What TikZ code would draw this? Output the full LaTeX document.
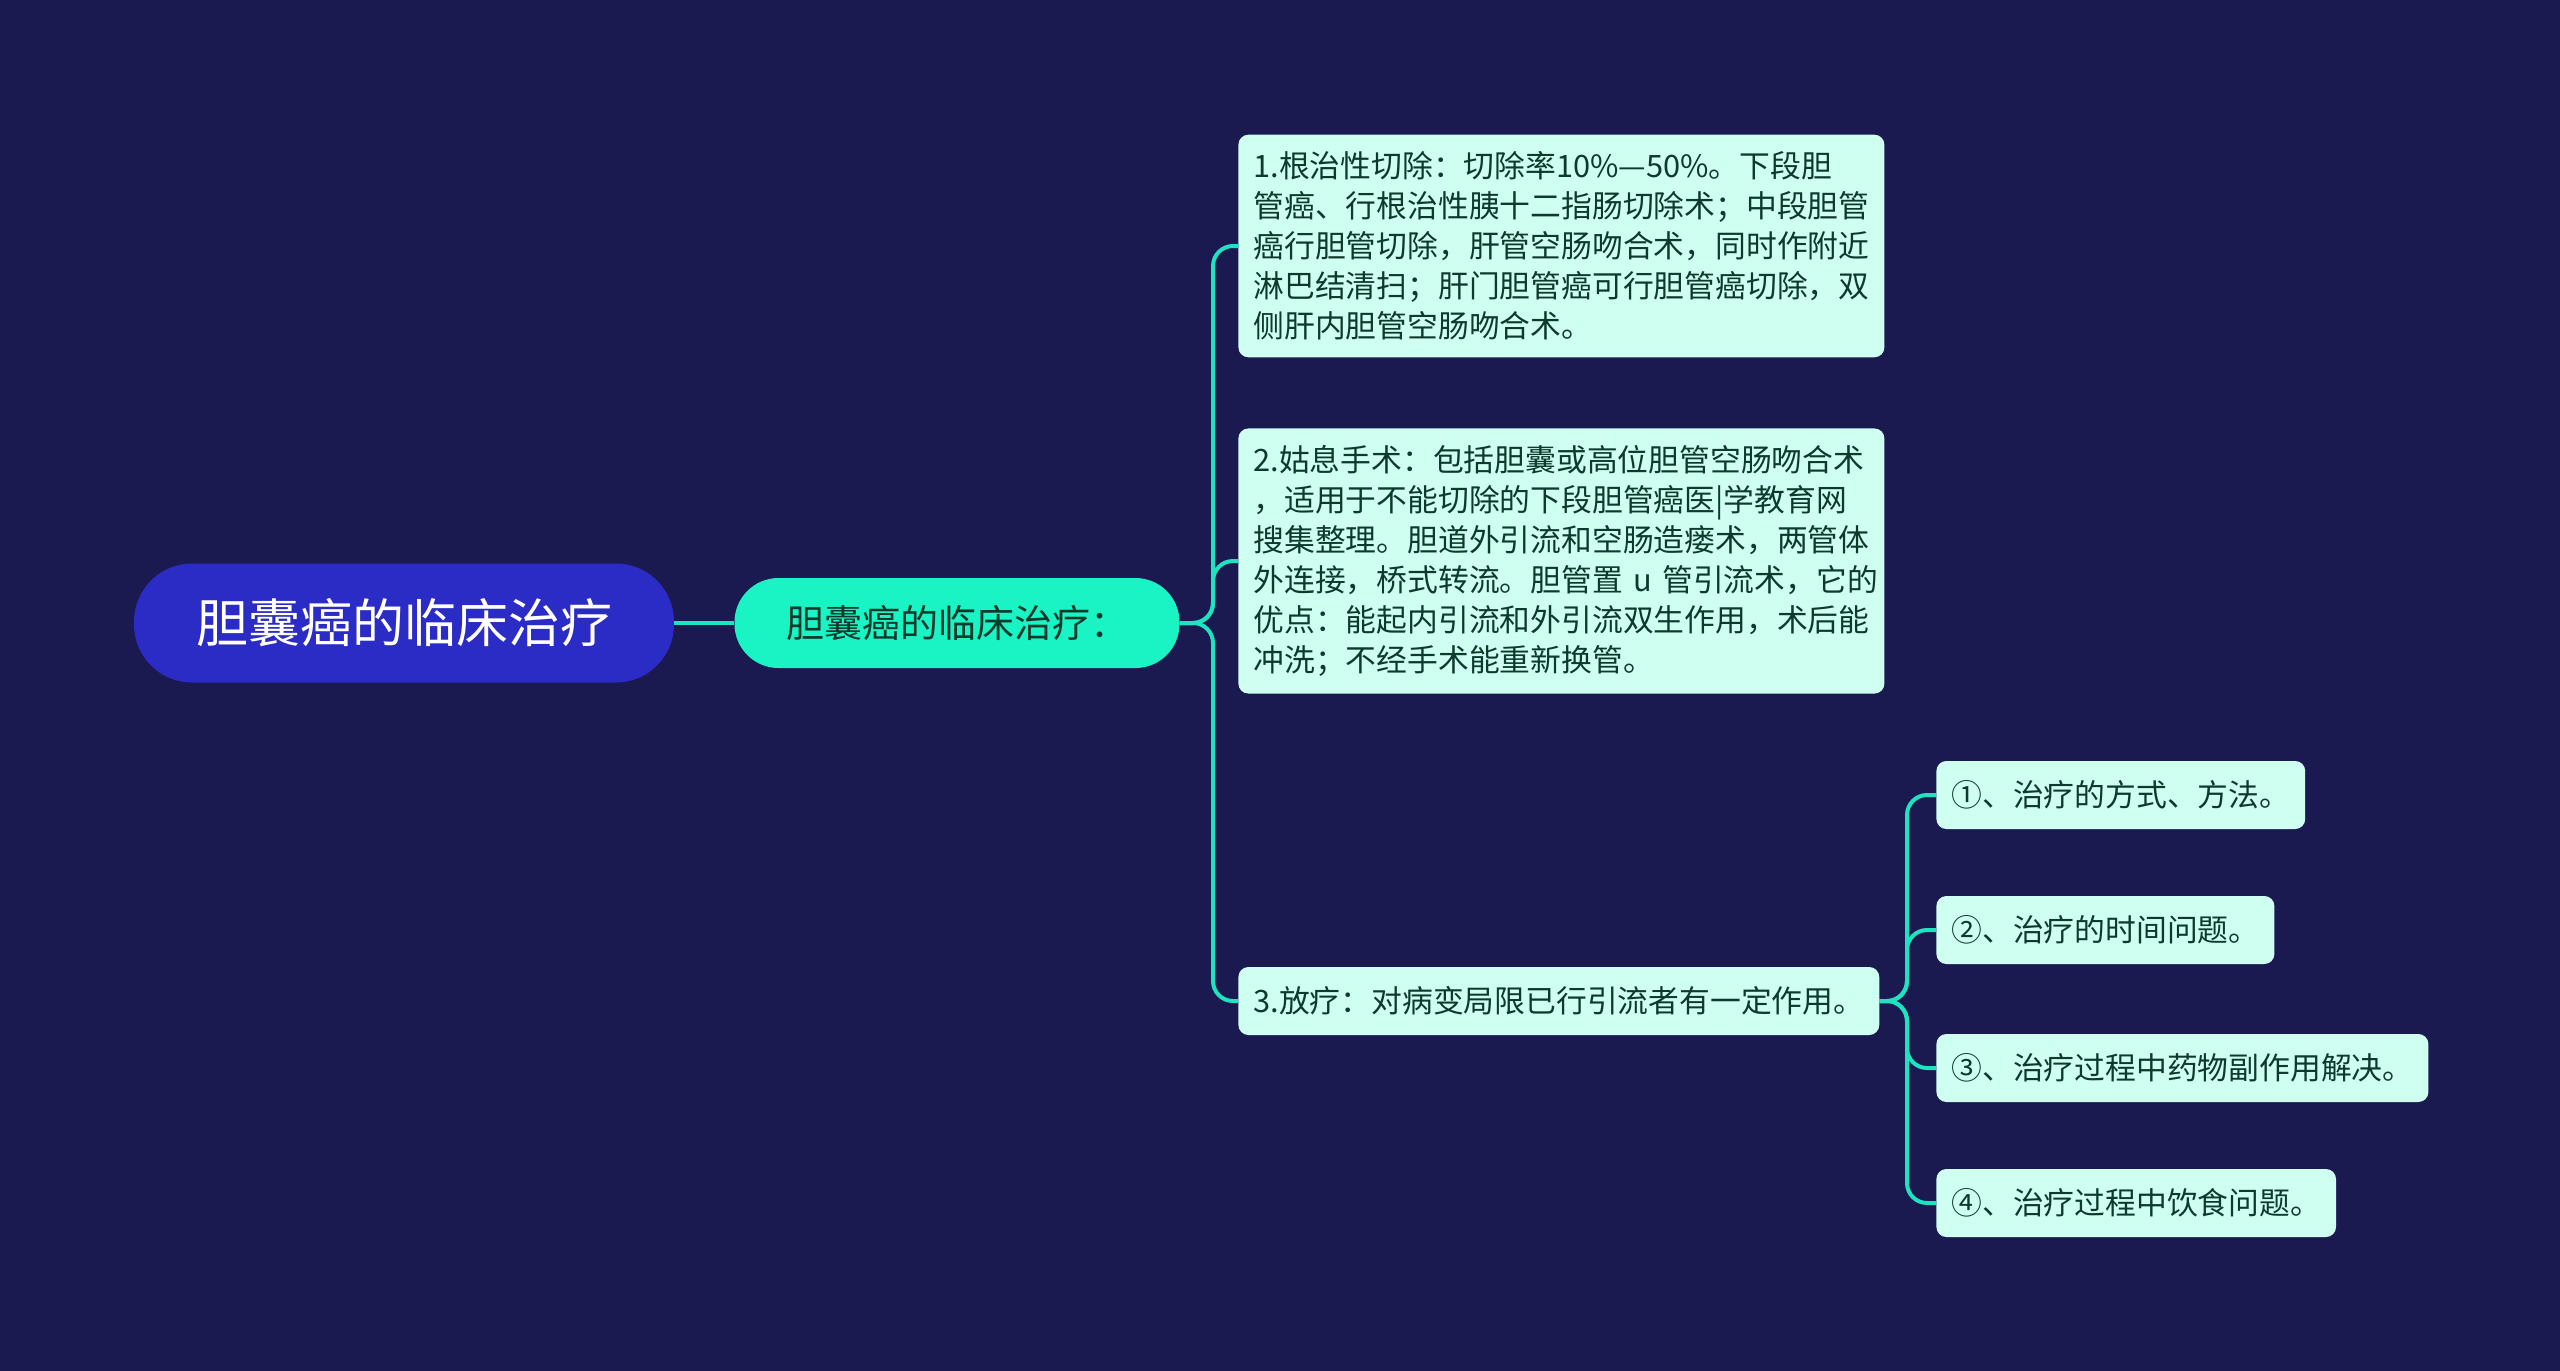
\documentclass[tikz,border=0pt]{standalone}
\usepackage{fontspec}
\setmainfont{Noto Sans CJK SC}
\usepackage{tikz}

\definecolor{bgnavy}{HTML}{1A1950}
\definecolor{rootblue}{HTML}{2B2BC6}
\definecolor{maingreen}{HTML}{1AF3C3}
\definecolor{leafmint}{HTML}{CFFFF1}
\definecolor{linkteal}{HTML}{1EE3C0}
\definecolor{inkgreen}{HTML}{0E3A2C}

\begin{document}
\begin{tikzpicture}[x=0.5pt,y=-0.5pt,
    rootbox/.style={shape=rectangle,rounded corners=29pt,fill=rootblue,text=white,
      minimum width=270pt,minimum height=59.5pt,font=\fontsize{26}{30}\selectfont},
    mainbox/.style={shape=rectangle,rounded corners=22pt,fill=maingreen,text=inkgreen,
      minimum width=222.5pt,minimum height=45pt,font=\fontsize{19}{23}\selectfont},
    leafbox/.style={shape=rectangle,rounded corners=5pt,fill=leafmint,text=inkgreen,
      anchor=west,inner xsep=7.5pt,inner ysep=8.5pt,minimum height=34pt,
      font=\fontsize{15.4}{20}\selectfont},
    link/.style={draw=linkteal,line width=2pt,rounded corners=10pt}]
        \useasboundingbox[fill=bgnavy] (0,0) rectangle (2560,1371);

        \node[rootbox] (root) at (404,623) {胆囊癌的临床治疗};
        \node[mainbox] (main) at (957,623) {胆囊癌的临床治疗：};

        \node[leafbox,text width=308pt,align=left] (p1) at (1238,246)
            {1.根治性切除：切除率10\%—50\%。下段胆\\管癌、行根治性胰十二指肠切除术；中段胆管\\癌行胆管切除，肝管空肠吻合术，同时作附近\\淋巴结清扫；肝门胆管癌可行胆管癌切除，双\\侧肝内胆管空肠吻合术。};
        \node[leafbox,text width=308pt,align=left] (p2) at (1238,561)
            {2.姑息手术：包括胆囊或高位胆管空肠吻合术\\，适用于不能切除的下段胆管癌医|学教育网\\搜集整理。胆道外引流和空肠造瘘术，两管体\\外连接，桥式转流。胆管置~u~管引流术，它的\\优点：能起内引流和外引流双生作用，术后能\\冲洗；不经手术能重新换管。};
        \node[leafbox] (p3) at (1238,1001) {3.放疗：对病变局限已行引流者有一定作用。};

        \node[leafbox] (q1) at (1936,795)  {①、治疗的方式、方法。};
        \node[leafbox] (q2) at (1936,930)  {②、治疗的时间问题。};
        \node[leafbox] (q3) at (1936,1068) {③、治疗过程中药物副作用解决。};
        \node[leafbox] (q4) at (1936,1203) {④、治疗过程中饮食问题。};

        \coordinate (hubm) at (1213,623);
        \coordinate (hubp) at (1907,1001);

	\path[link] (root) -- (main);
	\path[link] (main.east) -- (hubm) |- (p1.west);
	\path[link] (main.east) -- (hubm) |- (p2.west);
	\path[link] (main.east) -- (hubm) |- (p3.west);
	\path[link] (p3.east) -- (hubp) |- (q1.west);
	\path[link] (p3.east) -- (hubp) |- (q2.west);
	\path[link] (p3.east) -- (hubp) |- (q3.west);
	\path[link] (p3.east) -- (hubp) |- (q4.west);
\end{tikzpicture}
\end{document}
